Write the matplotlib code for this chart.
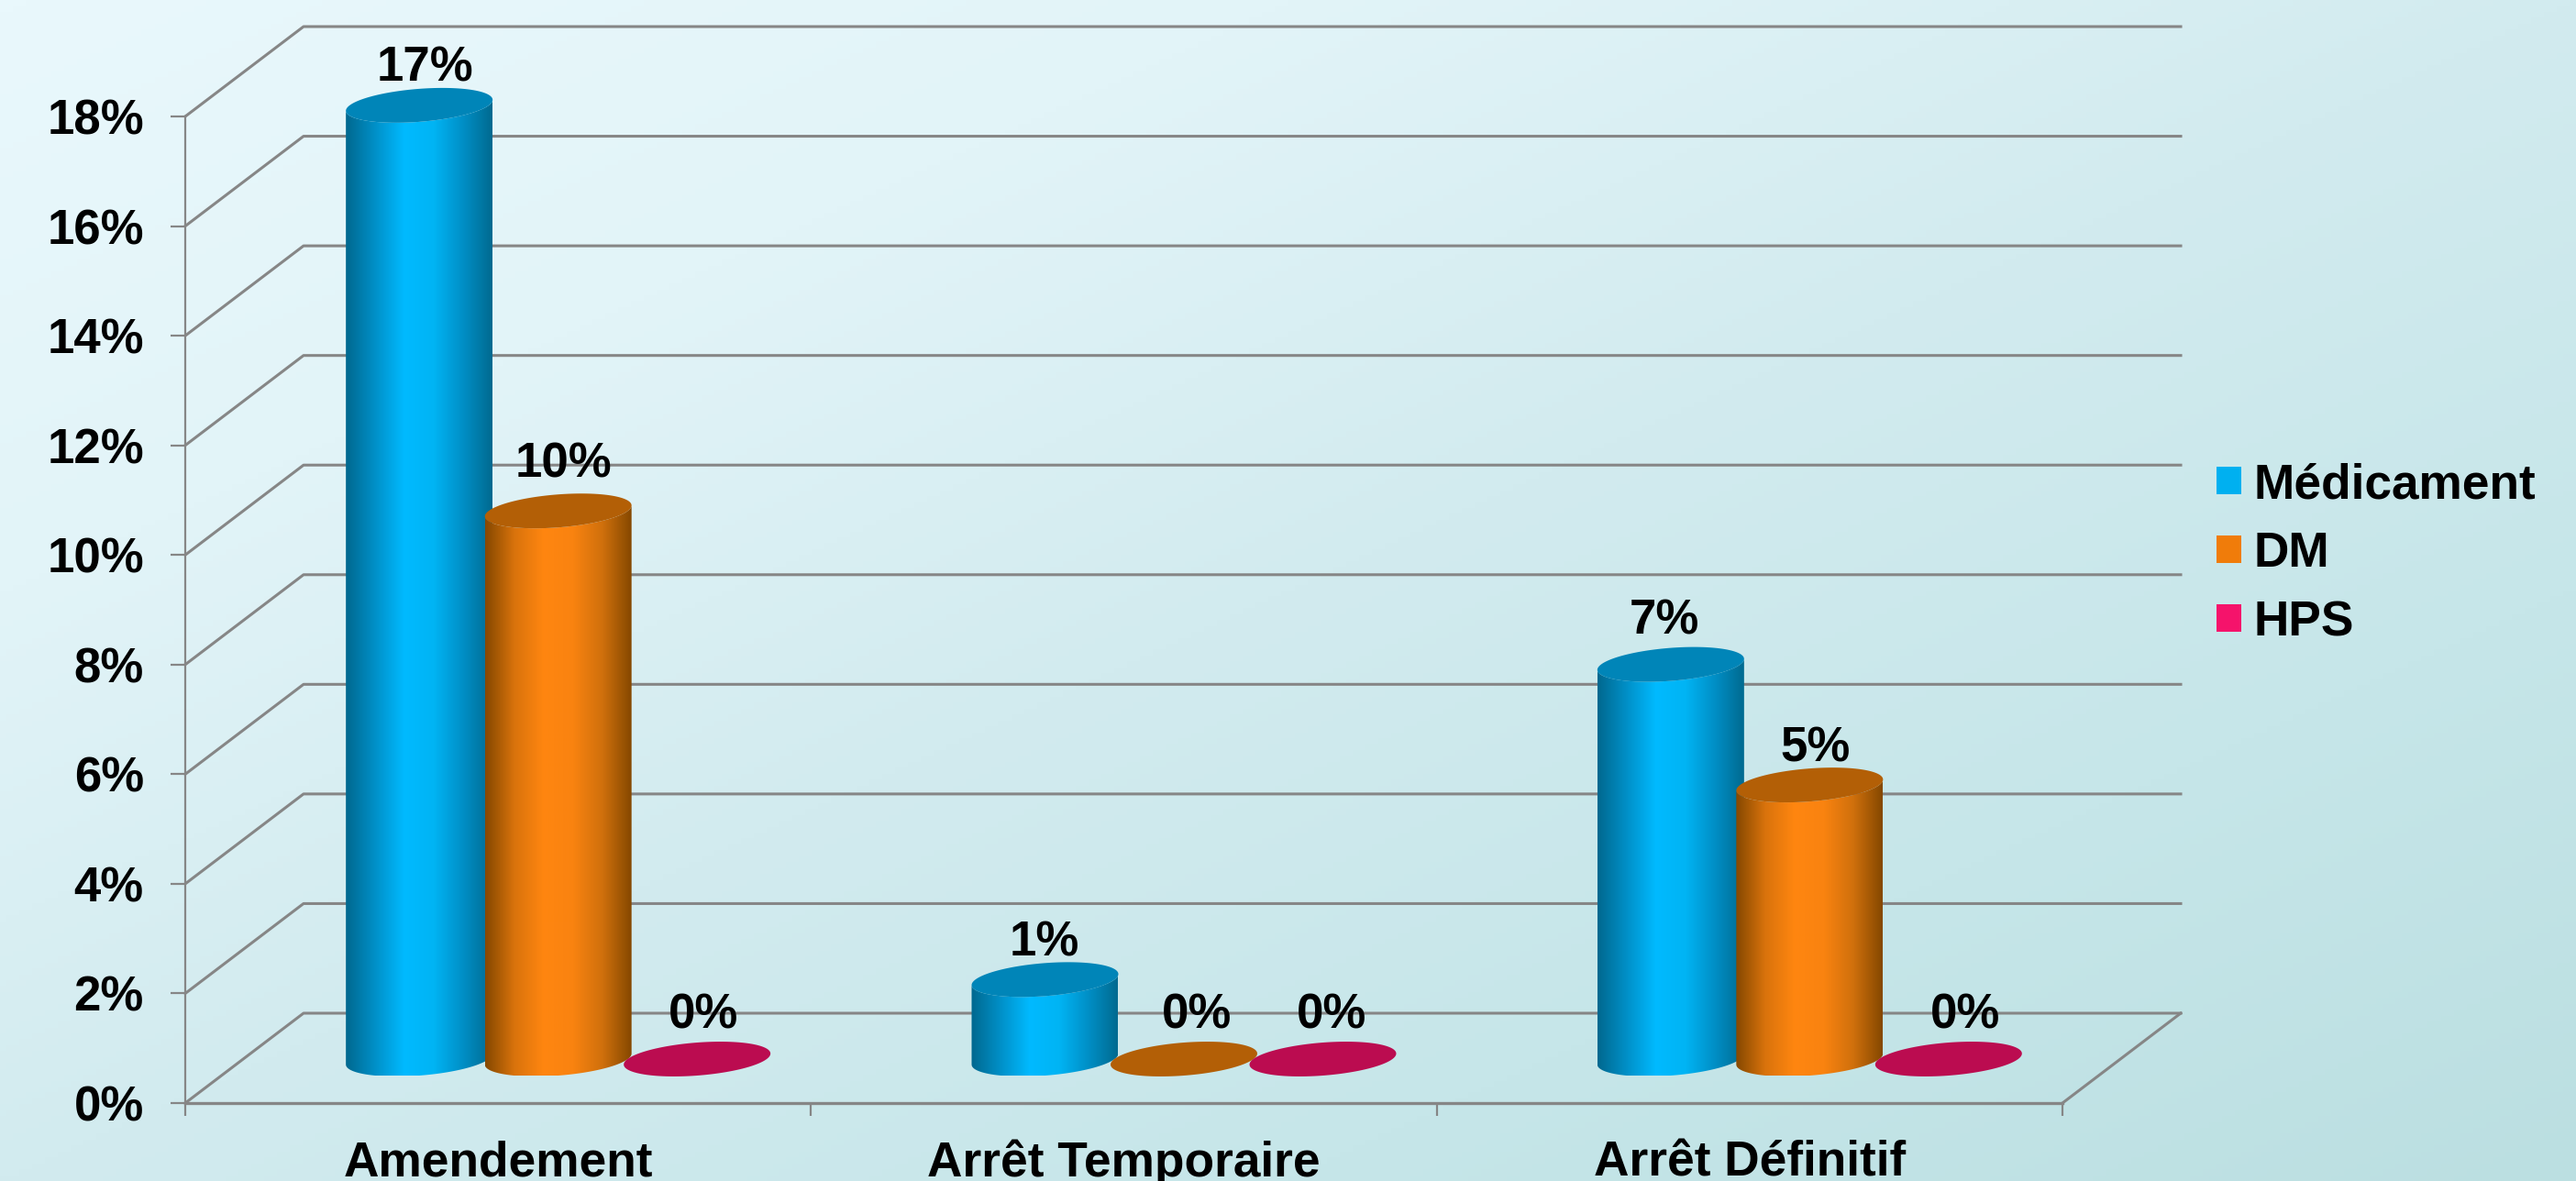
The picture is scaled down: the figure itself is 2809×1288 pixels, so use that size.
import numpy as np
import matplotlib
matplotlib.use("Agg")
import matplotlib.pyplot as plt
from matplotlib.colors import LinearSegmentedColormap
from matplotlib.patches import Patch, PathPatch
from matplotlib.path import Path

plt.rcParams['font.family'] = ['Liberation Sans', 'DejaVu Sans']
plt.rcParams['font.weight'] = 'bold'

categories = ["Amendement", "Arrêt Temporaire", "Arrêt Définitif"]
series_names = ["Médicament", "DM", "HPS"]
medicament = [17.4, 1.45, 7.2]
dm = [10.0, 0.0, 5.0]
hps = [0.0, 0.0, 0.0]
y_ticks = [0, 2, 4, 6, 8, 10, 12, 14, 16, 18]

W, H = 2809, 1288
LEFT, RIGHT, BOTTOM, TOP = 202, 2249, 1203, 127
# data units per pixel
XU = 3 / (RIGHT - LEFT)
YU = 18 / (BOTTOM - TOP)

GREY = "#868686"
DEPTH_X, DEPTH_Y = 129 * XU, 98 * YU
BAR_A, BAR_B, BAR_K = 80 * XU, 18 * YU, 6 * YU
STEP = 151.5 * XU

side_cols = [
    ["#00688f", "#0090c8", "#00baff", "#00b4f4", "#008fc6", "#006a90"],
    ["#854800", "#d9730c", "#ff8610", "#f98310", "#d0700c", "#854800"],
    ["#7a0636", "#c80c55", "#f5136b", "#f5136b", "#c80c55", "#7a0636"],
]
cap_cols = ["#0085b8", "#b35f06", "#bb0c50"]
legend_cols = ["#00b0f0", "#f07c0a", "#f5136b"]

# hand placed value labels, pixels right of the bar centre / above its top
label_dx = [[6, -1, -7], [6, 14, 6], [7, 10, 18]]
label_rise = [[40, 40, 47], [51, 47, 40], [47, 47, 47]]


def rim(cx, cy, t):
    return cx + BAR_A * np.cos(t), cy + BAR_B * np.sin(t) + BAR_K * np.cos(t)


fig = plt.figure(figsize=(W / 100, H / 100), dpi=100)

# diagonal background wash
bg = fig.add_axes([0, 0, 1, 1], zorder=-1)
bg.axis("off")
xx, yy = np.meshgrid(np.linspace(0, 1, 400), np.linspace(0, 1, 200))
wash = LinearSegmentedColormap.from_list(
    "wash", ["#e9f8fc", "#e2f4f8", "#d2ebef", "#c6e6e9", "#bbdfe1"])
bg.imshow((xx + yy) / 2, cmap=wash, vmin=0, vmax=1, aspect="auto", origin="upper")

ax = fig.add_axes([LEFT / W, 1 - BOTTOM / H, (RIGHT - LEFT) / W, (BOTTOM - TOP) / H])
ax.patch.set_alpha(0)

# back wall and side wall lines
for v in y_ticks:
    ax.plot([0, DEPTH_X, 3 + DEPTH_X], [v, v + DEPTH_Y, v + DEPTH_Y],
            color=GREY, lw=2.2, clip_on=False, zorder=1)
ax.plot([3, 3 + DEPTH_X], [0, DEPTH_Y], color=GREY, lw=2.2, clip_on=False, zorder=1)

lower = np.linspace(np.pi, 2 * np.pi, 60)
whole = np.linspace(0, 2 * np.pi, 120)
all_series = [medicament, dm, hps]
for s, vals in enumerate(all_series):
    cmap = LinearSegmentedColormap.from_list("side%d" % s, side_cols[s])
    for c, v in enumerate(vals):
        cx = c + 0.5 + DEPTH_X / 2 + (s - 1) * STEP + XU
        base = DEPTH_Y / 2 - YU
        top = base + v
        z = 3 + s
        if v > 0:
            bx, by = rim(cx, base, lower)
            tx, ty = rim(cx, top, lower)
            outline = np.column_stack([np.r_[bx, tx[::-1]], np.r_[by, ty[::-1]]])
            im = ax.imshow(np.linspace(0, 1, 256)[None, :], cmap=cmap, aspect="auto",
                           extent=[cx - BAR_A, cx + BAR_A, base - BAR_B, top + BAR_B],
                           zorder=z, interpolation="bilinear")
            # tall bars rise past the top of the axes box
            im.set_clip_box(fig.bbox)
            im.set_clip_path(PathPatch(Path(outline), transform=ax.transData))
        ex, ey = rim(cx, top, whole)
        ax.fill(ex, ey, color=cap_cols[s], lw=0, zorder=z + 0.1, clip_on=False)
        ax.text(cx + label_dx[s][c] * XU, top + label_rise[s][c] * YU, "%.0f%%" % v,
                ha="center", va="center", fontsize=38, color="black", zorder=10, clip_on=False)

ax.set_xlim(0, 3)
ax.set_ylim(0, 18)

ax.set_yticks(y_ticks)
ax.set_yticklabels(["%d%%" % v for v in y_ticks])
ax.set_xticks([0, 1, 2, 3])
ax.set_xticklabels([])
ax.set_xticks([0.5, 1.5, 2.5], minor=True)
ax.set_xticklabels(categories, minor=True)
ax.tick_params(axis="y", length=11.5, width=1.6, color=GREY, labelsize=38, pad=21)
ax.tick_params(axis="x", which="major", length=10, width=1.6, color=GREY)
ax.tick_params(axis="x", which="minor", length=0, labelsize=38.3, pad=47)
for lab in ax.get_xticklabels(minor=True):
    lab.set_va("center")
ax.spines[["top", "right"]].set_visible(False)
ax.spines["left"].set_color(GREY)
ax.spines["left"].set_linewidth(1.6)
ax.spines["bottom"].set_color(GREY)
ax.spines["bottom"].set_linewidth(2.4)
ax.set_axisbelow(True)

handles = [Patch(facecolor=col, edgecolor="none") for col in legend_cols]
fig.legend(handles, series_names, loc="upper left", frameon=False, fontsize=38.3,
           bbox_to_anchor=(2417 / W, 1 - 504 / H), borderpad=0, borderaxespad=0,
           handlelength=0.51, handleheight=0.51, handletextpad=0.26, labelspacing=0.47)

fig.savefig("out.png", dpi=100)
